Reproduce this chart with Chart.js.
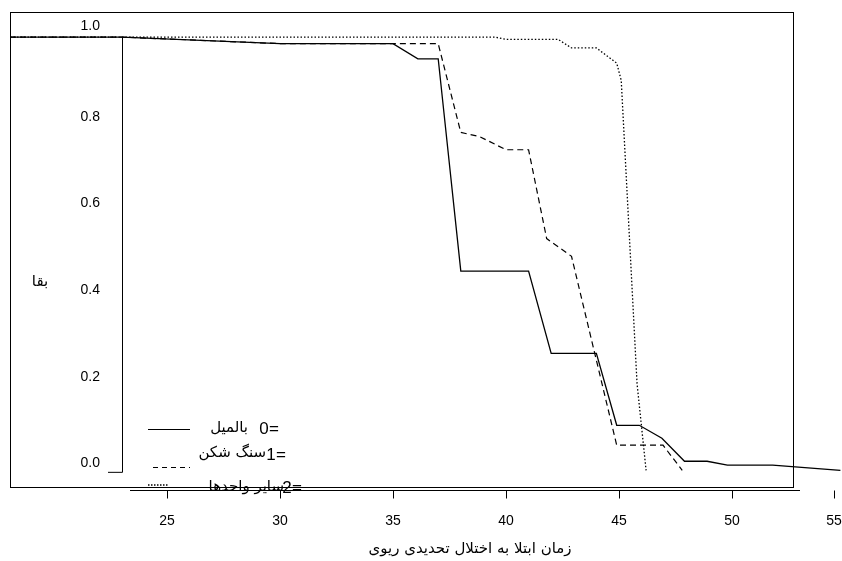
<!DOCTYPE html>
<html lang="en" dir="ltr"><head><meta charset="utf-8">
<script src="https://cdn.jsdelivr.net/npm/chart.js@4"></script>
<style>body{margin:0;background:#fff}#w{width:842px;height:561px}</style></head>
<body><div id="w"><canvas id="c"></canvas></div>
<script>
const solidX=[18.05,23,30,35,36.1,37,38,41,42,44,44.9,45.9,46.9,47.9,48.9,49.8,51.8,54.8];
const solidY=[1,1,0.985,0.985,0.95,0.95,0.46,0.46,0.27,0.27,0.104,0.104,0.074,0.021,0.021,0.012,0.012,0];
const dashX=[18.05,23,30,37,38,38.85,40,41,41.8,42.9,44.9,46.95,47.8];
const dashY=[1,1,0.985,0.985,0.78,0.77,0.74,0.74,0.535,0.494,0.058,0.058,0];
const dotX=[18.05,39.5,40,42.3,42.9,44,44.9,45.1,45.5,45.8,46.2];
const dotY=[1,1,0.995,0.995,0.975,0.975,0.94,0.9,0.5,0.2,0];
const xTicks=[25,30,35,40,45,50,55];
const yTicks=[0,0.2,0.4,0.6,0.8,1.0];
const xTitle='زمان ابتلا به اختلال تحدیدی ریوی';
const yTitle='بقا';
const legendLabels=['بالمیل','سنگ شکن','سایر واحدها'];
const legendCodes=['0','1','2'];
const pts=(xs,ys)=>xs.map((x,i)=>({x,y:ys[i]}));
const ff='"Liberation Sans", Arial, sans-serif';
const af='"DejaVu Sans", sans-serif';
const deco={id:'deco',afterDraw(ch){
 const c=ch.ctx,X=ch.scales.x,Y=ch.scales.y;
 c.save();c.direction='ltr';c.strokeStyle='#000';c.fillStyle='#000';c.lineWidth=1;
 c.strokeRect(10.5,12.5,783,475);
 const ax=122.5;
 const y0=Y.getPixelForValue(0);
 c.beginPath();c.moveTo(ax,Y.getPixelForValue(1));c.lineTo(ax,y0+2);c.lineTo(108,y0+2);c.stroke();
 c.font='14px '+ff;c.textAlign='right';c.textBaseline='middle';
 yTicks.forEach(v=>{const p=Y.getPixelForValue(v);c.fillText(v.toFixed(1),100,p-(v===1?11:7));});
 const ay=490.5;
 c.beginPath();c.moveTo(130,ay);c.lineTo(800,ay);c.stroke();
 c.textAlign='center';
 xTicks.forEach(v=>{const p=Math.min(X.getPixelForValue(v),834);c.beginPath();c.moveTo(Math.round(p)+0.5,ay);c.lineTo(Math.round(p)+0.5,ay+8);c.stroke();c.fillText(String(v),p,521);});
 c.font='15px '+af;
 c.fillText(xTitle,470,549);
 c.fillText(yTitle,40,282);
 c.textAlign='right';
 c.fillText(legendLabels[0],248,428);
 c.fillText(legendLabels[1],266,453);
 c.fillText(legendLabels[2],284,487);
 c.beginPath();c.moveTo(148,429.5);c.lineTo(190,429.5);c.stroke();
 c.font='17px '+ff;
 [[259,429],[266,455],[282,488]].forEach((p,i)=>{c.textAlign='center';c.fillText(legendCodes[i],p[0]+5,p[1]);c.fillText('=',p[0]+15,p[1]);});
 c.setLineDash([5,4]);c.beginPath();c.moveTo(153,467.5);c.lineTo(190,467.5);c.stroke();
 c.setLineDash([1.5,1.5]);c.lineWidth=1.5;c.beginPath();c.moveTo(148,485);c.lineTo(168,485);c.stroke();
 c.restore();
}};
new Chart(document.getElementById('c'),{type:'line',
 data:{datasets:[
  {data:pts(solidX,solidY),borderColor:'#000',borderWidth:1.3,pointRadius:0,tension:0},
  {data:pts(dashX,dashY),borderColor:'#000',borderWidth:1.2,borderDash:[6,4],pointRadius:0,tension:0},
  {data:pts(dotX,dotY),borderColor:'#000',borderWidth:1.3,borderDash:[1.5,2],pointRadius:0,tension:0}]},
 options:{responsive:true,maintainAspectRatio:false,animation:false,
  layout:{padding:{left:10,right:0,top:12,bottom:69}},
  plugins:{legend:{display:false},tooltip:{enabled:false}},
  scales:{x:{type:'linear',min:18.05,max:54.87,display:false},y:{min:-0.05,max:1.058,display:false}}},
 plugins:[deco]});
</script></body></html>
